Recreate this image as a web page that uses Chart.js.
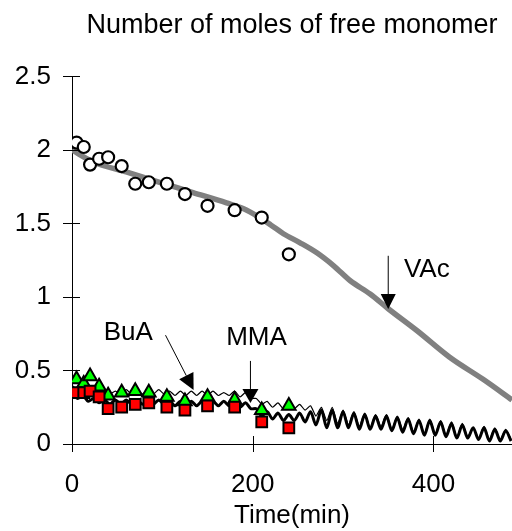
<!DOCTYPE html>
<html>
<head>
<meta charset="utf-8">
<script src="https://cdn.jsdelivr.net/npm/chart.js@4.4.0/dist/chart.umd.min.js"></script>
<style>
html, body { margin: 0; padding: 0; background: #fff; }
</style>
</head>
<body>
<canvas id="monomerChart" width="512" height="531"></canvas>
<script>
// sampled points (min)
var sampleTimes = [5, 13, 20, 30, 40, 55, 70, 85, 105, 125, 150, 180, 210, 240];
var vacMeasured = [2.05, 2.02, 1.90, 1.94, 1.95, 1.89, 1.77, 1.78, 1.77, 1.70, 1.62, 1.59, 1.54, 1.29];
var buaMeasured = [0.44, 0.41, 0.46, 0.39, 0.33, 0.35, 0.36, 0.35, 0.32, 0.29, 0.32, 0.30, 0.23, 0.26];
var mmaMeasured = [0.35, 0.35, 0.36, 0.32, 0.24, 0.25, 0.27, 0.28, 0.25, 0.23, 0.26, 0.25, 0.15, 0.11];

// model curves
var vacModelTimes = [0, 23, 60, 97, 134, 171, 190, 205, 220, 234, 252, 271, 290, 308, 330, 350, 382, 418, 455, 487];
var vacModel = [2.00, 1.92, 1.85, 1.78, 1.71, 1.64, 1.60, 1.55, 1.49, 1.43, 1.37, 1.30, 1.21, 1.11, 1.02, 0.92, 0.77, 0.59, 0.44, 0.30];

var modelTimes = [0, 6, 12, 18, 24, 30, 36, 42, 48, 54, 60, 66, 72, 78, 84, 90, 96, 102, 108, 114,
	120, 126, 132, 138, 144, 150, 156, 162, 168, 174, 180, 186, 192, 198, 204, 210, 216, 222, 228, 234,
	240, 246, 252, 258, 264, 270, 276, 282, 288, 294, 300, 306, 312, 318, 324, 330, 336, 342, 348, 354,
	360, 366, 372, 378, 384, 390, 396, 402, 408, 414, 420, 426, 432, 438, 444, 450, 456, 462, 468, 474,
	480, 486];
var buaModel = [0.40, 0.37, 0.39, 0.36, 0.38, 0.35, 0.37, 0.34, 0.36, 0.34, 0.37, 0.34, 0.37, 0.34, 0.37, 0.34, 0.37, 0.34, 0.36, 0.33,
	0.36, 0.33, 0.36, 0.33, 0.36, 0.33, 0.36, 0.33, 0.35, 0.33, 0.36, 0.32, 0.35, 0.31, 0.31, 0.27, 0.29, 0.25, 0.28, 0.24,
	0.27, 0.24, 0.27, 0.23, 0.26, 0.19, 0.25, 0.16, 0.25, 0.14, 0.23, 0.13, 0.22, 0.12, 0.21, 0.11, 0.20, 0.12, 0.20, 0.10,
	0.19, 0.10, 0.18, 0.08, 0.17, 0.07, 0.17, 0.07, 0.16, 0.06, 0.15, 0.05, 0.14, 0.05, 0.11, 0.04, 0.12, 0.03, 0.11, 0.03,
	0.10, 0.03];
var mmaModel = [0.36, 0.31, 0.33, 0.29, 0.31, 0.28, 0.30, 0.27, 0.30, 0.27, 0.30, 0.27, 0.30, 0.27, 0.30, 0.27, 0.30, 0.27, 0.29, 0.26,
	0.29, 0.26, 0.29, 0.26, 0.29, 0.26, 0.29, 0.26, 0.29, 0.26, 0.29, 0.25, 0.28, 0.24, 0.24, 0.19, 0.22, 0.17, 0.21, 0.16,
	0.20, 0.16, 0.21, 0.15, 0.22, 0.13, 0.23, 0.11, 0.23, 0.11, 0.22, 0.11, 0.21, 0.10, 0.20, 0.10, 0.19, 0.10, 0.19, 0.09,
	0.18, 0.08, 0.17, 0.07, 0.16, 0.06, 0.16, 0.06, 0.15, 0.05, 0.14, 0.04, 0.13, 0.04, 0.11, 0.03, 0.11, 0.02, 0.10, 0.02,
	0.09, 0.02];

var xTicks = [0, 200, 400];
var yTicks = [0, 0.5, 1, 1.5, 2, 2.5];

var FONT = '"Liberation Sans", Arial, sans-serif';

var toPoints = function(xs, ys) {
	return xs.map(function(x, i) { return {x: x, y: ys[i]}; });
};

var drawArrow = function(ctx, x1, y1, x2, y2, len, half) {
	var ang = Math.atan2(y2 - y1, x2 - x1);
	var bx = x2 - Math.cos(ang) * len, by = y2 - Math.sin(ang) * len;
	ctx.beginPath();
	ctx.moveTo(x1, y1);
	ctx.lineTo(bx, by);
	ctx.stroke();
	ctx.beginPath();
	ctx.moveTo(x2, y2);
	ctx.lineTo(bx + Math.sin(ang) * half, by - Math.cos(ang) * half);
	ctx.lineTo(bx - Math.sin(ang) * half, by + Math.cos(ang) * half);
	ctx.closePath();
	ctx.fill();
};

// tick marks crossing the axes + arrow labels
var extrasPlugin = {
	id: 'extras',
	afterDraw: function(chart) {
		var ctx = chart.ctx, xs = chart.scales.x, ys = chart.scales.y;
		ctx.save();
		ctx.strokeStyle = '#000';
		ctx.fillStyle = '#000';
		ctx.lineWidth = 1;
		xs.ticks.forEach(function(t) {
			var px = Math.round(xs.getPixelForValue(t.value)) + 0.5;
			ctx.beginPath();
			ctx.moveTo(px, ys.bottom - 8);
			ctx.lineTo(px, ys.bottom + 8);
			ctx.stroke();
		});
		ys.ticks.forEach(function(t) {
			var py = Math.round(ys.getPixelForValue(t.value)) + 0.5;
			ctx.beginPath();
			ctx.moveTo(xs.left - 9, py);
			ctx.lineTo(xs.left + 8, py);
			ctx.stroke();
		});

		var X = function(v) { return xs.getPixelForValue(v); };
		var Y = function(v) { return ys.getPixelForValue(v); };

		ctx.font = '26px ' + FONT;
		ctx.textAlign = 'center';
		ctx.textBaseline = 'middle';
		ctx.fillText('VAc', X(392.7), Y(1.185));
		ctx.fillText('BuA', X(62.2), Y(0.758));
		ctx.fillText('MMA', X(204.2), Y(0.722));

		drawArrow(ctx, X(350), Y(1.28), X(350), Y(0.918), 15, 7.5);
		drawArrow(ctx, X(103.5), Y(0.74), X(134.6), Y(0.368), 16, 8);
		drawArrow(ctx, X(197.5), Y(0.565), X(197.5), Y(0.279), 14, 8);
		ctx.restore();
	}
};

Chart.defaults.font.family = FONT;
Chart.defaults.color = '#000';

var ctx = document.getElementById('monomerChart');
var monomerChart = new Chart(ctx, {
	type: 'scatter',
	data: {
		datasets: [{
			label: 'MMA',
			data: toPoints(sampleTimes, mmaMeasured),
			pointStyle: 'rect',
			pointRadius: 7.6,
			backgroundColor: '#ff0000',
			borderColor: '#000',
			borderWidth: 2
		}, {
			label: 'BuA',
			data: toPoints(sampleTimes, buaMeasured),
			pointStyle: 'triangle',
			pointRadius: 7.8,
			backgroundColor: '#00ff00',
			borderColor: '#000',
			borderWidth: 2
		}, {
			label: 'VAc',
			data: toPoints(sampleTimes, vacMeasured),
			pointStyle: 'circle',
			pointRadius: 6,
			backgroundColor: '#fff',
			borderColor: '#000',
			borderWidth: 2.2
		}, {
			label: 'BuA model',
			data: toPoints(modelTimes, buaModel),
			showLine: true,
			pointRadius: 0,
			borderColor: '#000',
			borderWidth: 1.2,
			tension: 0.2
		}, {
			label: 'MMA model',
			data: toPoints(modelTimes, mmaModel),
			showLine: true,
			pointRadius: 0,
			borderColor: '#000',
			borderWidth: 3,
			tension: 0.3
		}, {
			label: 'VAc model',
			data: toPoints(vacModelTimes, vacModel),
			showLine: true,
			pointRadius: 0,
			borderColor: '#808080',
			borderWidth: 5.5,
			cubicInterpolationMode: 'monotone'
		}]
	},
	plugins: [extrasPlugin],
	options: {
		responsive: false,
		animation: false,
		layout: { padding: 0, autoPadding: false },
		plugins: {
			legend: { display: false },
			tooltip: { enabled: false },
			title: {
				display: true,
				text: 'Number of moles of free monomer',
				fullSize: false,
				color: '#000',
				font: { size: 27, weight: 'normal', family: FONT },
				padding: { top: 9, bottom: 35 }
			}
		},
		scales: {
			x: {
				type: 'linear',
				min: 0,
				max: 487,
				afterBuildTicks: function(scale) {
					scale.ticks = xTicks.map(function(v) { return {value: v}; });
				},
				afterFit: function(scale) {
					scale.height = 87;
					scale.paddingLeft = 0;
					scale.paddingRight = 0;
				},
				grid: { display: false, drawTicks: false },
				border: { display: true, color: '#000', width: 1 },
				ticks: { font: { size: 26 }, padding: 25, maxRotation: 0 },
				title: {
					display: true,
					text: 'Time(min)',
					font: { size: 26 },
					padding: { top: 0, bottom: 0 }
				}
			},
			y: {
				type: 'linear',
				min: 0,
				max: 2.5,
				afterBuildTicks: function(scale) {
					scale.ticks = yTicks.map(function(v) { return {value: v}; });
				},
				afterFit: function(scale) { scale.width = 72; },
				grid: { display: false, drawTicks: false },
				border: { display: true, color: '#000', width: 1 },
				ticks: {
					font: { size: 26 },
					padding: 21,
					callback: function(v) { return String(v); }
				}
			}
		}
	}
});
</script>
</body>
</html>
